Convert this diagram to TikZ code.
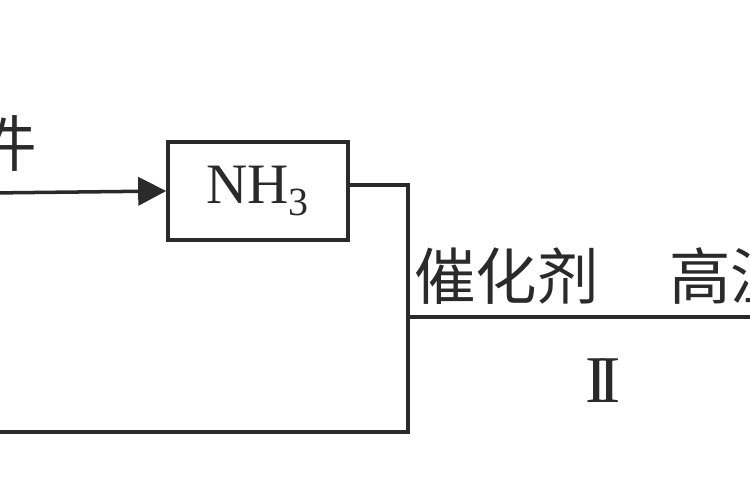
\documentclass[tikz,border=0pt]{standalone}
\usepackage{fontspec}
\setmainfont{Liberation Serif}
\newfontfamily\cjk{Noto Sans CJK SC}
\usetikzlibrary{arrows.meta}
\definecolor{ink}{HTML}{2A2A2A}
\tikzset{
  linea/.style = {draw=ink, line width=2pt},
  caja/.style = {linea, minimum width=3.6cm, minimum height=1.96cm, inner sep=0pt},
  rotulo/.style = {text=ink, inner sep=0pt, font=\cjk\fontsize{35}{40}\selectfont},
}
\begin{document}
\begin{tikzpicture}[x=0.02cm,y=-0.02cm]
    \useasboundingbox (0,0) rectangle (750,500);
    \clip (0,0) rectangle (750,500);

    % caja amoniaco
    \node[caja] (nh3) at (258,191) {\fontsize{32.5}{36}\selectfont\color{ink}NH\textsubscript{3}};

    % entrada con flecha
    \coordinate (entrada) at (-10,193);
    \draw[linea, -{Triangle[length=16pt,width=16pt]}] (entrada) -- (nh3.west);
    \node[rotulo, anchor=east] (cond) at (37,143) {条件};

    % salida y retorno
    \coordinate (j1) at (408,185);
    \coordinate (j2) at (408,432);
    \coordinate (j3) at (408,317);
    \coordinate (retorno) at (-10,432);
    \coordinate (fin) at (760,317);
    \draw[linea] (nh3.east |- j1) -- (j1) -- (j2) -- (retorno);
    \draw[linea] (j3) -- (fin);

    % condiciones del paso II
    \node[rotulo, anchor=south west] (cat) at (414,305) {催化剂\hspace{1.15em}高温};
    \node[text=ink, inner sep=0pt, font=\fontsize{38}{40}\selectfont] (paso) at (603,381) {I\kern-5.5pt I};

\end{tikzpicture}
\end{document}
